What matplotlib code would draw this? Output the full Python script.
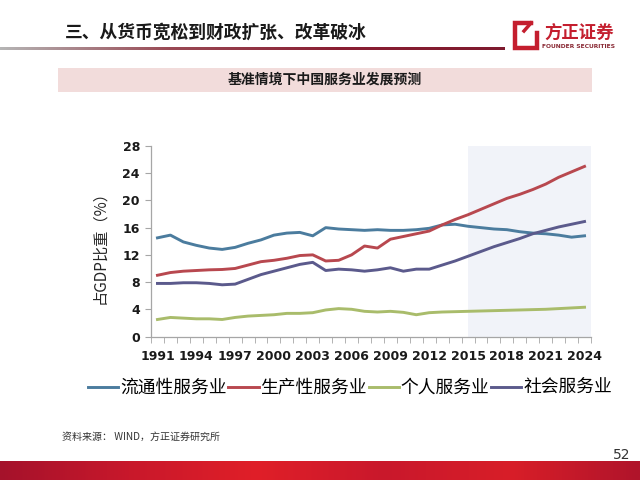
import numpy as np
import matplotlib
matplotlib.use("Agg")
import matplotlib.pyplot as plt
from matplotlib.colors import LinearSegmentedColormap
from matplotlib.ticker import FixedLocator

plt.rcParams['font.family'] = ['Noto Sans CJK SC', 'DejaVu Sans']

years = np.arange(1991, 2025)
label_years = years[::3]

# 占GDP比重（%）
circulation = [14.5, 14.9, 13.9, 13.4, 13.0, 12.8, 13.1, 13.7, 14.2, 14.9,
               15.2, 15.3, 14.8, 16.0, 15.8, 15.7, 15.6, 15.7, 15.6, 15.6,
               15.7, 15.9, 16.4, 16.5, 16.2, 16.0, 15.8, 15.7, 15.4, 15.2,
               15.1, 14.9, 14.6, 14.8]
production = [9.0, 9.4, 9.6, 9.7, 9.8, 9.85, 10.0, 10.5, 11.0, 11.2,
              11.5, 11.9, 12.0, 11.1, 11.2, 12.0, 13.3, 13.0, 14.3, 14.7,
              15.1, 15.5, 16.4, 17.2, 17.9, 18.7, 19.5, 20.3, 20.9, 21.6,
              22.4, 23.4, 24.2, 25.0]
personal = [2.5, 2.8, 2.7, 2.6, 2.6, 2.5, 2.8, 3.0, 3.1, 3.2,
            3.4, 3.4, 3.5, 3.9, 4.1, 4.0, 3.7, 3.6, 3.7, 3.55,
            3.2, 3.5, 3.6, 3.65, 3.7, 3.75, 3.8, 3.85, 3.9, 3.95,
            4.0, 4.1, 4.2, 4.3]
social = [7.8, 7.8, 7.9, 7.9, 7.8, 7.6, 7.7, 8.4, 9.1, 9.6,
          10.1, 10.6, 10.9, 9.7, 9.9, 9.8, 9.6, 9.8, 10.1, 9.6,
          9.9, 9.9, 10.5, 11.1, 11.8, 12.5, 13.2, 13.8, 14.4, 15.1,
          15.6, 16.1, 16.5, 16.9]

series = [circulation, production, personal, social]
series_names = ["流通性服务业", "生产性服务业", "个人服务业", "社会服务业"]
series_colors = ["#4B7C9E", "#B8484F", "#A9BC6B", "#5B5A8C"]

forecast_start = 2015

fig = plt.figure(figsize=(6.4, 4.8), dpi=100)

# page decoration, drawn in pixel coordinates
bg = fig.add_axes([0, 0, 1, 1])
bg.axis('off')

rule_cmap = LinearSegmentedColormap.from_list(
    "rule", ["#B5B5B5", "#9A4A55", "#8A1F33", "#7E1A2E"])
bg.imshow(np.linspace(0, 1, 256)[None, :], cmap=rule_cmap, aspect='auto',
          extent=[0, 505, 50.5, 47.5])

band_cmap = LinearSegmentedColormap.from_list(
    "band", ["#A5122B", "#C8182B", "#E01F28", "#C9182C", "#D81E28", "#B0142B"])
bg.imshow(np.linspace(0, 1, 256)[None, :], cmap=band_cmap, aspect='auto',
          extent=[0, 640, 480, 461])

bg.set_xlim(0, 640)
bg.set_ylim(480, 0)

bg.text(65, 33, "三、从货币宽松到财政扩张、改革破冰", fontsize=12.8,
        fontweight='bold', color='#1A1A1A', ha='left', va='center')

# logo
bg.plot([531, 515, 515, 537, 537], [23, 23, 48, 48, 33],
        color='#C41E2E', lw=3.2, solid_joinstyle='miter')
bg.plot([524, 531], [31, 23], color='#C41E2E', lw=2.5)
bg.text(579, 33, "方正证券", fontsize=12.5, fontweight='bold',
        color='#C41E2E', ha='center', va='center')
bg.text(579, 46.5, "FOUNDER SECURITIES", fontsize=4.3, fontweight='bold',
        color='#8A2A35', ha='center', va='center', family='DejaVu Sans')

# subtitle band
bg.add_patch(plt.Rectangle((58, 68), 534, 24, color='#F2DCDB', lw=0))
bg.text(325, 80, "基准情境下中国服务业发展预测", fontsize=10,
        fontweight='bold', color='#1A1A1A', ha='center', va='center')

bg.text(100, 244, "占GDP比重（%）", fontsize=11, rotation=90,
        color='#262626', ha='center', va='center')

bg.text(62, 437, "资料来源： WIND，方正证券研究所", fontsize=7.2,
        color='#333333', ha='left', va='center')
bg.text(622, 455, "52", fontsize=10, color='#333333', ha='center',
        va='center', family='DejaVu Sans')

# chart
ax = fig.add_axes([151 / 640, 1 - 336.5 / 480, 440 / 640, 190.5 / 480])
ax.patch.set_alpha(0)
ax.axvspan(forecast_start, 2024.5, color='#F1F3F9', lw=0, zorder=0)

for vals, name, col in zip(series, series_names, series_colors):
    ax.plot(years, vals, color=col, lw=2.1, label=name, zorder=3)

ax.set_xlim(1990.5, 2024.5)
ax.set_ylim(0, 28)
ax.set_yticks(range(0, 29, 4))
ax.set_xticks(label_years)
ax.xaxis.set_minor_locator(FixedLocator(np.arange(1990.5, 2025, 1)))

for s in ['top', 'right']:
    ax.spines[s].set_visible(False)
for s in ['left', 'bottom']:
    ax.spines[s].set_color('#A6A6A6')
    ax.spines[s].set_linewidth(0.9)

ax.tick_params(axis='x', which='major', length=0, pad=10)
ax.tick_params(axis='x', which='minor', length=4, color='#A6A6A6', direction='out')
ax.tick_params(axis='y', length=4, color='#A6A6A6', pad=4)
for lab in ax.get_xticklabels() + ax.get_yticklabels():
    lab.set_family('DejaVu Sans')
    lab.set_fontweight('bold')
    lab.set_fontsize(9)
    lab.set_color('#1A1A1A')

handles, labels = ax.get_legend_handles_labels()
fig.legend(handles, labels, loc='center', bbox_to_anchor=(350 / 640, 1 - 388 / 480),
           ncol=4, frameon=False, fontsize=12.8, handlelength=1.7,
           handletextpad=0.1, columnspacing=0.1, borderaxespad=0)

fig.savefig("out.png", dpi=100)
